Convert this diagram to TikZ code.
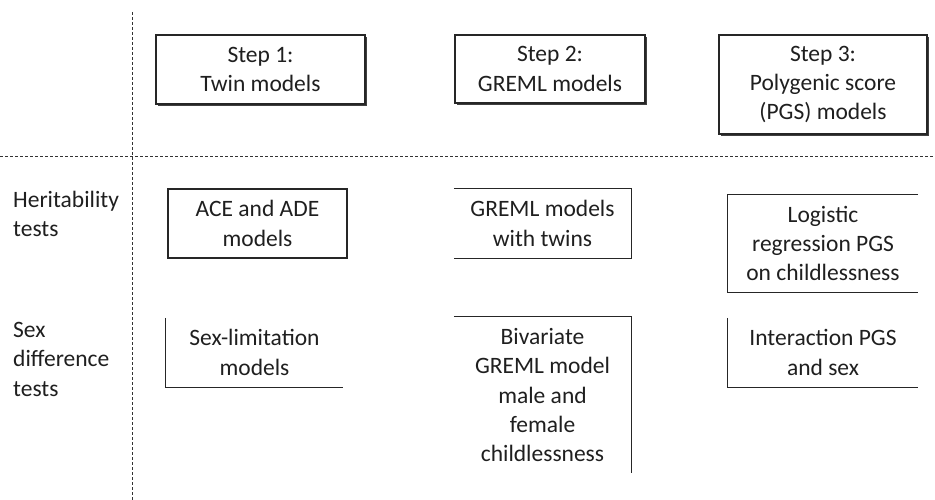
\documentclass[tikz,border=0pt]{standalone}
\usepackage{fontspec}
\setmainfont{Carlito}
\usetikzlibrary{shadows}
\begin{document}
\begin{tikzpicture}[x=1pt,y=-1pt,
  every node/.style={font=\fontsize{23.5}{29.3}\selectfont, text=black!88, inner sep=0pt, align=center},
  stepbox/.style={draw=black!85, line width=1.1pt, fill=white,
    drop shadow={shadow xshift=1.6pt, shadow yshift=-1.6pt, fill=black!75, opacity=1}},
  fullbox/.style={draw=black!85, line width=1.1pt},
  side/.style={draw=black!85, line width=1.1pt},
  sep/.style={draw=black!80, line width=1pt, dash pattern=on 3pt off 2pt},
  rowlabel/.style={align=left, anchor=north west}]
\useasboundingbox (0,0) rectangle (935,500);
% separators
\coordinate (vtop) at (132,12);
\coordinate (vbot) at (132,500);
\coordinate (hl) at (0,157);
\coordinate (hr) at (935,157);
\draw[sep] (vtop) -- (vbot);
\draw[sep] (hl) -- (hr);
% step boxes
\node[stepbox, minimum width=209pt, minimum height=69pt] (s1) at (260.5,69.5) {Step 1:\\Twin models};
\node[stepbox, minimum width=190pt, minimum height=68pt] (s2) at (550,69) {Step 2:\\GREML models};
\node[stepbox, minimum width=208pt, minimum height=99pt] (s3) at (823,84.5) {Step 3:\\Polygenic score\\(PGS) models};
% row labels
\node[rowlabel] (rl1) at (13,191) {Heritability\\tests};
\node[rowlabel] (rl2) at (13,322) {Sex\\difference\\tests};
% heritability row
\node[fullbox, minimum width=179pt, minimum height=69pt] (ace) at (257.5,223.5) {ACE and ADE\\models};
\node[minimum width=177pt, minimum height=69pt] (gt) at (542.5,223.5) {GREML models\\with twins};
\draw[side] (gt.north west) -- (gt.north east) -- (gt.south east) -- (gt.south west);
\node[minimum width=190pt, minimum height=97pt] (lg) at (823,243.5) {Logistic\\regression PGS\\on childlessness};
\draw[side] (lg.north east) -- (lg.north west) -- (lg.south west) -- (lg.south east);
% sex difference row
\node[minimum width=177pt, minimum height=69pt] (sl) at (254.5,352.5) {Sex-limitation\\models};
\draw[side] (sl.north west) -- (sl.south west) -- (sl.south east);
\node[minimum width=177pt, minimum height=156pt] (bv) at (542.5,395) {Bivariate\\GREML model\\male and\\female\\childlessness};
\draw[side] (bv.north west) -- (bv.north east) -- (bv.south east);
\node[minimum width=190pt, minimum height=69pt] (ip) at (823,352.5) {Interaction PGS\\and sex};
\draw[side] (ip.north west) -- (ip.south west) -- (ip.south east);
\end{tikzpicture}
\end{document}
